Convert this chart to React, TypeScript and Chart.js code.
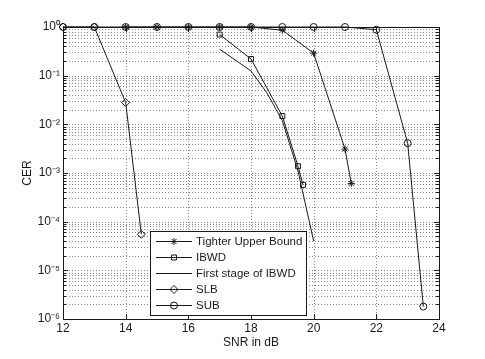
import React, { useEffect, useRef } from "react";
import { Chart, registerables } from "chart.js";
import { drawPoint } from "chart.js/helpers";

Chart.register(...registerables);

// ---- Data ----
const snrTighter = [14, 15, 16, 17, 18, 19, 20, 21, 21.2];
const cerTighter = [1, 1, 1, 1, 1, 0.86, 0.29, 3.1e-3, 6.1e-4];

const snrIBWD = [17, 18, 19, 19.5, 19.66];
const cerIBWD = [0.7, 0.22, 0.0148, 1.38e-3, 5.7e-4];

const snrFirstStage = [17, 18, 18.5, 19, 19.5, 20];
const cerFirstStage = [0.35, 0.125, 0.045, 0.012, 1.1e-3, 4e-5];

const snrSLB = [12, 13, 14, 14.5];
const cerSLB = [1, 1, 0.028, 5.5e-5];

const snrSUB = [12, 13, 14, 15, 16, 17, 18, 19, 20, 21, 22, 23, 23.5];
const cerSUB = [1, 1, 1, 1, 1, 1, 1, 1, 1, 1, 0.88, 4.1e-3, 1.8e-6];

const seriesLabels = ["Tighter Upper Bound", "IBWD", "First stage of IBWD", "SLB", "SUB"];

const xTickValues = [12, 14, 16, 18, 20, 22, 24];
const yTickValues = [1e-6, 1e-5, 1e-4, 1e-3, 1e-2, 1e-1, 1];
const yTickLabels = ["10⁻⁶", "10⁻⁵", "10⁻⁴", "10⁻³", "10⁻²", "10⁻¹", "10⁰"];

const FONT = "'Liberation Sans', Arial, Helvetica, sans-serif";
const INK = "#1a1a1a";

const toPoints = (xs: number[], ys: number[]) => xs.map((x, i) => ({ x, y: ys[i] }));

const matlabPlugin = {
  id: "matlabDecor",
  beforeDatasetsDraw(chart: any) {
    const { ctx, chartArea: a, scales } = chart;
    const xs = scales.x;
    const ys = scales.y;
    ctx.save();
    ctx.strokeStyle = "#8a8a8a";
    ctx.lineWidth = 1;
    ctx.setLineDash([1, 2]);
    ctx.beginPath();
    for (const v of xTickValues) {
      if (v === xs.min || v === xs.max) continue;
      const px = Math.round(xs.getPixelForValue(v)) + 0.5;
      ctx.moveTo(px, a.top);
      ctx.lineTo(px, a.bottom);
    }
    for (let k = -6; k <= -1; k++) {
      for (let m = 1; m <= 9; m++) {
        const v = m * Math.pow(10, k);
        if (k === -6 && m === 1) continue;
        const py = Math.round(ys.getPixelForValue(v)) + 0.5;
        ctx.moveTo(a.left, py);
        ctx.lineTo(a.right, py);
      }
    }
    ctx.stroke();
    ctx.restore();
  },
  afterDatasetsDraw(chart: any) {
    const { ctx, chartArea: a, scales } = chart;
    const xs = scales.x;
    const ys = scales.y;
    ctx.save();
    ctx.strokeStyle = INK;
    ctx.lineWidth = 1;
    ctx.beginPath();
    for (const v of xTickValues) {
      const px = Math.round(xs.getPixelForValue(v)) + 0.5;
      ctx.moveTo(px, a.bottom);
      ctx.lineTo(px, a.bottom - 5);
      ctx.moveTo(px, a.top);
      ctx.lineTo(px, a.top + 5);
    }
    for (let k = -6; k <= 0; k++) {
      for (let m = 1; m <= 9; m++) {
        const v = m * Math.pow(10, k);
        if (v > 1) break;
        const py = Math.round(ys.getPixelForValue(v)) + 0.5;
        const len = m === 1 ? 5 : 3;
        ctx.moveTo(a.left, py);
        ctx.lineTo(a.left + len, py);
        ctx.moveTo(a.right, py);
        ctx.lineTo(a.right - len, py);
      }
    }
    ctx.stroke();
    ctx.strokeRect(Math.round(a.left) + 0.5, Math.round(a.top) + 0.5, Math.round(a.right - a.left), Math.round(a.bottom - a.top));
    ctx.restore();
  },
  afterDraw(chart: any) {
    const { ctx } = chart;
    const box = { left: 150, top: 231, right: 306, bottom: 315 };
    ctx.save();
    ctx.fillStyle = "#ffffff";
    ctx.fillRect(box.left, box.top, box.right - box.left, box.bottom - box.top);
    ctx.strokeStyle = INK;
    ctx.lineWidth = 1;
    ctx.strokeRect(box.left + 0.5, box.top + 0.5, box.right - box.left, box.bottom - box.top);
    ctx.font = `11.5px ${FONT}`;
    ctx.textBaseline = "middle";
    ctx.textAlign = "left";
    chart.data.datasets.forEach((ds: any, i: number) => {
      const cy = box.top + 10 + i * 16;
      ctx.strokeStyle = INK;
      ctx.lineWidth = 1;
      ctx.beginPath();
      ctx.moveTo(156, cy + 0.5);
      ctx.lineTo(192, cy + 0.5);
      ctx.stroke();
      if (ds.pointRadius > 0) {
        ctx.fillStyle = "rgba(0,0,0,0)";
        drawPoint(ctx, { pointStyle: ds.pointStyle, radius: ds.pointRadius, rotation: 0, borderWidth: 1 }, 174, cy + 0.5);
      }
      ctx.fillStyle = INK;
      ctx.fillText(ds.label, 196, cy + 1);
    });
    ctx.restore();
  },
};

export default function App() {
  const canvasRef = useRef<HTMLCanvasElement | null>(null);

  useEffect(() => {
    document.body.style.margin = "0";
    const canvas = canvasRef.current;
    if (!canvas) return;
    const common = {
      borderColor: INK,
      backgroundColor: "rgba(0,0,0,0)",
      borderWidth: 1,
      pointBorderWidth: 1,
      pointBorderColor: INK,
      pointBackgroundColor: "rgba(0,0,0,0)",
      tension: 0,
      clip: false as any,
    };
    const chart = new Chart(canvas, {
      type: "line",
      data: {
        datasets: [
          { ...common, label: seriesLabels[0], data: toPoints(snrTighter, cerTighter), pointStyle: "star", pointRadius: 3.5 },
          { ...common, label: seriesLabels[1], data: toPoints(snrIBWD, cerIBWD), pointStyle: "rect", pointRadius: 3.5 },
          { ...common, label: seriesLabels[2], data: toPoints(snrFirstStage, cerFirstStage), pointStyle: "circle", pointRadius: 0 },
          { ...common, label: seriesLabels[3], data: toPoints(snrSLB, cerSLB), pointStyle: "rectRot", pointRadius: 4 },
          { ...common, label: seriesLabels[4], data: toPoints(snrSUB, cerSUB), pointStyle: "circle", pointRadius: 3.5 },
        ] as any,
      },
      options: {
        animation: false,
        responsive: false,
        maintainAspectRatio: false,
        layout: { padding: { left: 16, top: 27, right: 46, bottom: 0 } },
        plugins: { legend: { display: false }, tooltip: { enabled: false } },
        scales: {
          x: {
            type: "linear",
            min: 12,
            max: 24,
            afterBuildTicks: (scale: any) => {
              scale.ticks = xTickValues.map((v) => ({ value: v }));
            },
            afterFit: (scale: any) => {
              scale.height = 40;
            },
            ticks: {
              color: INK,
              font: { family: FONT, size: 12 },
              padding: 2,
              maxRotation: 0,
              callback: (v: any) => String(v),
            },
            grid: { display: false, drawTicks: false },
            border: { display: false },
            title: {
              display: true,
              text: "SNR in dB",
              color: INK,
              font: { family: FONT, size: 12 },
              padding: { top: 4, bottom: 9 },
            },
          },
          y: {
            type: "logarithmic",
            min: 1e-6,
            max: 1,
            afterBuildTicks: (scale: any) => {
              scale.ticks = yTickValues.map((v) => ({ value: v }));
            },
            afterFit: (scale: any) => {
              scale.width = 47;
            },
            ticks: {
              color: INK,
              font: { family: FONT, size: 12 },
              padding: 3,
              callback: (v: any) => {
                const idx = yTickValues.findIndex((t) => Math.abs(Math.log10(t) - Math.log10(v)) < 1e-6);
                return idx >= 0 ? yTickLabels[idx] : "";
              },
            },
            grid: { display: false, drawTicks: false },
            border: { display: false },
            title: {
              display: true,
              text: "CER",
              color: INK,
              font: { family: FONT, size: 12 },
              padding: { top: 4, bottom: 4 },
            },
          },
        },
      },
      plugins: [matlabPlugin],
    });
    return () => chart.destroy();
  }, []);

  return (
    <div style={{ width: 485, height: 359 }}>
      <canvas ref={canvasRef} width={485} height={359} style={{ display: "block", width: 485, height: 359 }} />
    </div>
  );
}
